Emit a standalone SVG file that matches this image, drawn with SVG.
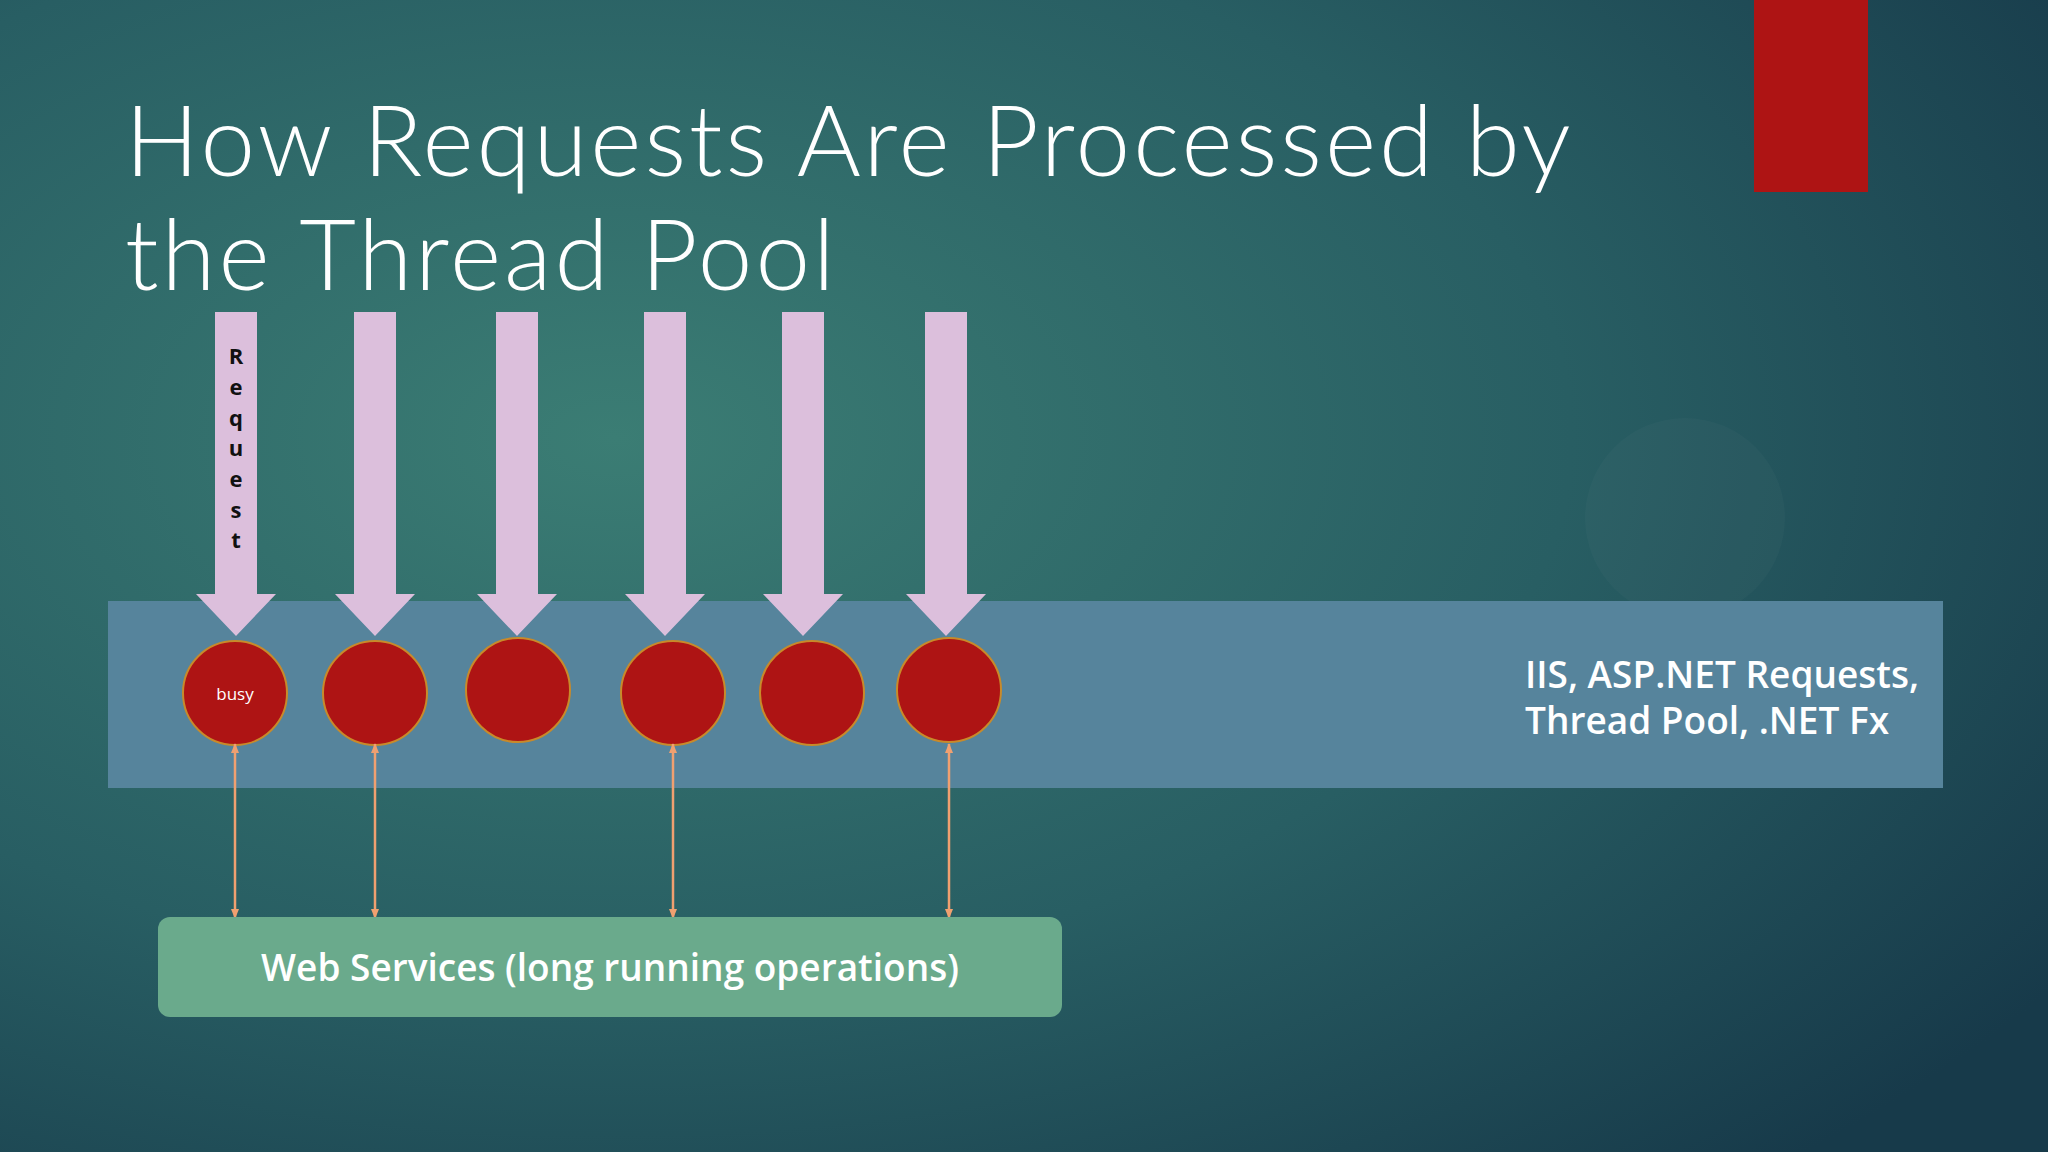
<svg xmlns="http://www.w3.org/2000/svg" width="2048" height="1152" viewBox="0 0 2048 1152">
<defs>
<radialGradient id="bg" cx="0.3" cy="0.38" r="0.85">
<stop offset="0" stop-color="#3b7d74"/>
<stop offset="0.55" stop-color="#285e63"/>
<stop offset="1" stop-color="#173a4a"/>
</radialGradient>
<marker id="ah" viewBox="0 0 10 10" refX="9" refY="5" markerWidth="4" markerHeight="4" orient="auto-start-reverse"><path d="M0,1 L10,5 L0,9 z" fill="#f0a070"/></marker>
<style>
.arrow{fill:#dcbfdc}
.th{fill:#ae1414;stroke:#c88a2a;stroke-width:2}
.conn{stroke:#f0a070;stroke-width:2.5;fill:none;marker-start:url(#ah);marker-end:url(#ah)}
.lbl{font-family:"Open Sans","Liberation Sans",sans-serif;fill:#fff;font-weight:600}
</style>
</defs>
<rect width="2048" height="1152" fill="url(#bg)"/>
<circle cx="1685" cy="518" r="100" fill="#ffffff" opacity="0.025"/>
<rect x="1754" y="0" width="114" height="192" fill="#ae1414"/>
<g id="title" font-family="Lato,'Liberation Sans',sans-serif" font-weight="300" font-size="98" fill="#fff" letter-spacing="3">
<text x="125" y="176">How Requests Are Processed by</text>
<text x="125" y="290">the Thread Pool</text>
</g>
<g id="band"><rect x="108" y="601" width="1835" height="187" fill="#56849c"/>
<text class="lbl" font-size="37" x="1525" y="688">IIS, ASP.NET Requests,</text>
<text class="lbl" font-size="37" x="1525" y="734">Thread Pool, .NET Fx</text></g>
<g id="requests">
<path class="arrow" d="M215,312h42v282h19l-40,42l-40,-42h19z"/>
<path class="arrow" d="M354,312h42v282h19l-40,42l-40,-42h19z"/>
<path class="arrow" d="M496,312h42v282h19l-40,42l-40,-42h19z"/>
<path class="arrow" d="M644,312h42v282h19l-40,42l-40,-42h19z"/>
<path class="arrow" d="M782,312h42v282h19l-40,42l-40,-42h19z"/>
<path class="arrow" d="M925,312h42v282h19l-40,42l-40,-42h19z"/>
<g font-family="'Open Sans','Liberation Sans',sans-serif" font-weight="700" font-size="22" fill="#111" text-anchor="middle">
<text x="236" y="364">R</text><text x="236" y="395">e</text><text x="236" y="426">q</text><text x="236" y="456">u</text><text x="236" y="487">e</text><text x="236" y="518">s</text><text x="236" y="548">t</text>
</g></g>
<g id="threads">
<circle class="th" cx="235" cy="693" r="52"/>
<circle class="th" cx="375" cy="693" r="52"/>
<circle class="th" cx="518" cy="690" r="52"/>
<circle class="th" cx="673" cy="693" r="52"/>
<circle class="th" cx="812" cy="693" r="52"/>
<circle class="th" cx="949" cy="690" r="52"/>
<text x="235" y="700" font-family="'Open Sans','Liberation Sans',sans-serif" font-size="17" fill="#fff" text-anchor="middle">busy</text>
</g>
<g id="connectors">
<line class="conn" x1="235" y1="744" x2="235" y2="918"/>
<line class="conn" x1="375" y1="744" x2="375" y2="918"/>
<line class="conn" x1="673" y1="744" x2="673" y2="918"/>
<line class="conn" x1="949" y1="744" x2="949" y2="918"/>
</g>
<g id="webservices">
<rect x="158" y="917" width="904" height="100" rx="12" fill="#6aaa8c"/>
<text class="lbl" x="610" y="981" font-size="37" text-anchor="middle">Web Services (long running operations)</text>
</g>
</svg>
